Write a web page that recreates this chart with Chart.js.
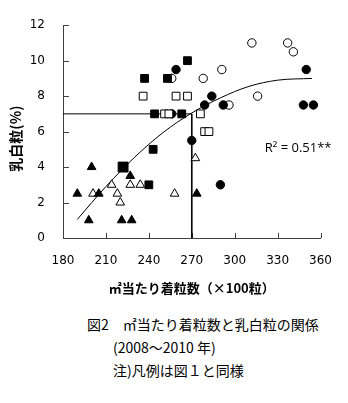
<!DOCTYPE html>
<html>
<head>
<meta charset="utf-8">
<script src="https://cdn.jsdelivr.net/npm/chart.js@4/dist/chart.umd.min.js"></script>
<style>
  body { margin: 0; background: #fff; }
  #wrap { position: relative; width: 348px; height: 403px; }
  #caption {
    position: absolute; left: 0; top: 313px; width: 348px;
    font-family: "Noto Sans CJK JP", sans-serif; font-size: 14px; line-height: 23px; color: #000;
  }
  #caption div { white-space: nowrap; }
</style>
</head>
<body>
<div id="wrap">
  <canvas id="riceChart" width="348" height="300"></canvas>
  <div id="caption">
    <div style="padding-left:87px">図2　㎡当たり着粒数と乳白粒の関係</div>
    <div style="padding-left:113px">(2008～2010 年)</div>
    <div style="padding-left:113px">注)凡例は図１と同様</div>
  </div>
</div>
<script>
// 着粒数 (x100粒/㎡) と 乳白粒 (%) ― 図から読み取った値
const filledSquares = [[237, 9], [253, 9], [267, 10], [244, 7], [263, 7], [222, 4], [243, 5], [240, 3]];
const openSquares = [[236, 8], [259, 8], [267, 8], [251, 7], [254, 7], [276, 7], [279, 6], [282, 6]];
const filledCircles = [[259, 9.5], [256, 7], [279, 7.5], [284, 8], [292, 7.5], [270, 5.5], [290, 3], [350, 9.5], [348, 7.5], [355, 7.5]];
const openCircles = [[256, 9], [278, 9], [291, 9.5], [296, 7.5], [316, 8], [312, 11], [337, 11], [341, 10.5]];
const filledTriangles = [[200, 4], [227, 3.5], [190, 2.5], [205, 2.5], [273.5, 2.5], [198, 1], [221, 1], [228, 1]];
const openTriangles = [[214, 3], [227, 3], [234, 3], [201, 2.5], [218, 2.5], [258, 2.5], [220, 2], [272.5, 4.5]];

// 回帰曲線 (R2 = 0.51**)
const trendX = [190, 210, 230, 250, 270, 290, 310, 330, 354];
const trendY = [1.05, 2.9, 4.55, 5.95, 7.05, 7.9, 8.55, 8.9, 9.0];

// 補助線 (270 と 7%)
const guideX = [180, 270, 270];
const guideY = [7, 7, 0];

const r2Label = 'R² = 0.51**';

const toPts = arr => arr.map(p => ({x: p[0], y: p[1]}));
const zip = (xs, ys) => xs.map((v, i) => ({x: v, y: ys[i]}));

function marker(data, style, filled, radius) {
  return {
    data: toPts(data),
    pointStyle: style,
    pointRadius: radius,
    pointBackgroundColor: filled ? '#000' : '#fff',
    pointBorderColor: '#000',
    pointBorderWidth: 1,
    showLine: false,
    order: 1
  };
}

const innerTicks = {
  id: 'innerTicks',
  beforeDatasetsDraw(chart) {
    const {ctx, scales: {x, y}} = chart;
    ctx.save();
    ctx.strokeStyle = '#404040';
    ctx.lineWidth = 1;
    ctx.beginPath();
    x.ticks.forEach(t => {
      const px = Math.round(x.getPixelForValue(t.value)) + 0.5;
      ctx.moveTo(px, y.bottom);
      ctx.lineTo(px, y.bottom - 5);
    });
    y.ticks.forEach(t => {
      const py = Math.round(y.getPixelForValue(t.value)) + 0.5;
      ctx.moveTo(x.left, py);
      ctx.lineTo(x.left + 6, py);
    });
    ctx.stroke();
    ctx.fillStyle = '#000';
    ctx.font = '13px "Open Sans"';
    ctx.textBaseline = 'middle';
    ctx.fillText(r2Label, x.getPixelForValue(321), y.getPixelForValue(5.05));
    ctx.restore();
  }
};

const ctx = document.getElementById('riceChart').getContext('2d');
new Chart(ctx, {
  type: 'scatter',
  data: {
    datasets: [
      marker(filledSquares, 'rect', true, c => c.dataIndex === 5 ? 7 : 5.5),
      marker(openSquares, 'rect', false, 5.5),
      marker(filledCircles, 'circle', true, 4.2),
      marker(openCircles, 'circle', false, 4.2),
      marker(filledTriangles, 'triangle', true, 5),
      marker(openTriangles, 'triangle', false, 5),
      {
        data: zip(trendX, trendY),
        showLine: true,
        borderColor: '#000',
        borderWidth: 1,
        pointRadius: 0,
        cubicInterpolationMode: 'monotone',
        order: 10
      },
      {
        data: zip(guideX, guideY),
        showLine: true,
        borderColor: '#000',
        borderWidth: 1,
        pointRadius: 0,
        tension: 0,
        order: 10
      }
    ]
  },
  options: {
    responsive: false,
    animation: false,
    layout: { padding: { top: 19, right: 18, left: 0, bottom: 0 } },
    plugins: {
      legend: { display: false },
      tooltip: { enabled: false }
    },
    scales: {
      x: {
        type: 'linear',
        min: 180,
        max: 360,
        ticks: { stepSize: 30, padding: 16, color: '#000', font: { family: 'DejaVu Sans', size: 12 } },
        grid: { display: false, drawTicks: false },
        border: { display: true, color: '#404040', width: 1 },
        title: {
          display: true,
          text: '㎡当たり着粒数（×100粒）',
          color: '#000',
          font: { family: '"Noto Sans CJK JP"', size: 13, weight: 'bold' },
          padding: { top: 0, bottom: 4 }
        },
        afterFit: s => { s.height = 62; }
      },
      y: {
        min: 0,
        max: 12,
        ticks: { stepSize: 2, padding: 18, color: '#000', font: { family: 'DejaVu Sans', size: 12 } },
        grid: { display: false, drawTicks: false },
        border: { display: true, color: '#404040', width: 1 },
        title: {
          display: true,
          text: '乳白粒(%)　',
          color: '#000',
          font: { family: '"Noto Sans CJK JP"', size: 14, weight: 'bold' },
          padding: { top: 7, bottom: 0 }
        },
        afterFit: s => { s.width = 63; }
      }
    }
  },
  plugins: [innerTicks]
});
</script>
</body>
</html>
